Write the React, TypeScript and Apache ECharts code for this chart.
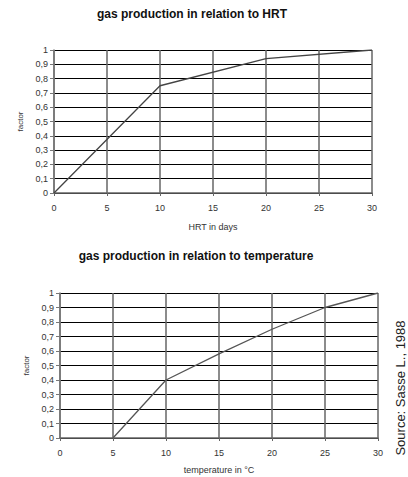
import React, { useEffect, useRef } from "react";
import * as echarts from "echarts";

const hrtDays = [0, 10, 20, 30];
const hrtFactor = [0, 0.75, 0.94, 1];
const tempC = [5, 10, 15, 20, 25, 30];
const tempFactor = [0, 0.4, 0.58, 0.75, 0.9, 1];
const titles = ["gas production in relation to HRT", "gas production in relation to temperature"];
const xNames = ["HRT in days", "temperature in \u00b0C"];
const yName = "factor";
const sourceText = "Source: Sasse L., 1988";

const fmtY = (v: number) => {
  const r = Math.round(v * 10) / 10;
  if (r === 0) return "0";
  if (r === 1) return "1";
  return r.toFixed(1).replace(".", ",");
};

const FONT = "Liberation Sans, Arial, sans-serif";

export default function App() {
  const ref = useRef<HTMLDivElement>(null);
  useEffect(() => {
    if (!ref.current) return;
    const chart = echarts.init(ref.current, undefined, { renderer: "svg" });
    const xAxisBase = (gridIndex: number, name: string, gap: number) => ({
      type: "value",
      gridIndex,
      min: 0,
      max: 30,
      interval: 5,
      name,
      nameLocation: "middle",
      nameGap: gap,
      nameTextStyle: { fontFamily: FONT, fontSize: 9, color: "#333" },
      axisLine: { show: true, lineStyle: { color: "#666", width: 1.5 } },
      axisTick: { show: true, length: 3, lineStyle: { color: "#666" } },
      axisLabel: { fontFamily: FONT, fontSize: 9, color: "#333", margin: 10 },
      splitLine: { show: true, lineStyle: { color: "#666", width: 1.5 } },
    });
    const yAxisBase = (gridIndex: number, gap: number) => ({
      type: "value",
      gridIndex,
      min: 0,
      max: 1,
      interval: 0.1,
      name: yName,
      nameLocation: "middle",
      nameRotate: 90,
      nameGap: gap,
      nameTextStyle: { fontFamily: FONT, fontSize: 8, color: "#333" },
      axisLine: { show: true, lineStyle: { color: "#777", width: 1.5 } },
      axisTick: { show: true, length: 4, lineStyle: { color: "#777" } },
      axisLabel: { fontFamily: FONT, fontSize: 9, color: "#333", margin: 6, formatter: fmtY },
      splitLine: { show: true, lineStyle: { color: "#000", width: 1 } },
    });
    chart.setOption({
      animation: false,
      backgroundColor: "#fff",
      title: [
        {
          text: titles[0],
          left: 187,
          top: 3,
          textAlign: "center",
          textStyle: { fontFamily: FONT, fontSize: 12, fontWeight: "bold", color: "#111" },
        },
        {
          text: titles[1],
          left: 191,
          top: 245,
          textAlign: "center",
          textStyle: { fontFamily: FONT, fontSize: 12, fontWeight: "bold", color: "#111" },
        },
      ],
      grid: [
        { left: 54, top: 50, width: 318, height: 143 },
        { left: 60, top: 293, width: 318, height: 145 },
      ],
      xAxis: [xAxisBase(0, xNames[0], 29), xAxisBase(1, xNames[1], 27)],
      yAxis: [yAxisBase(0, 29), yAxisBase(1, 29)],
      series: [
        {
          type: "line",
          xAxisIndex: 0,
          yAxisIndex: 0,
          data: hrtDays.map((d, i) => [d, hrtFactor[i]]),
          symbol: "none",
          lineStyle: { color: "#444", width: 1.3 },
        },
        {
          type: "line",
          xAxisIndex: 1,
          yAxisIndex: 1,
          data: tempC.map((d, i) => [d, tempFactor[i]]),
          symbol: "none",
          lineStyle: { color: "#555", width: 1.3 },
        },
      ],
      graphic: [
        {
          type: "text",
          x: 400,
          y: 388,
          rotation: Math.PI / 2,
          style: {
            text: sourceText,
            fontFamily: FONT,
            fontSize: 13,
            fill: "#222",
            align: "center",
            verticalAlign: "middle",
            textAlign: "center",
            textVerticalAlign: "middle",
          },
        },
      ],
    });
    return () => chart.dispose();
  }, []);
  return (
    <div
      ref={ref}
      style={{ position: "absolute", left: 0, top: 0, width: 408, height: 477 }}
    />
  );
}
